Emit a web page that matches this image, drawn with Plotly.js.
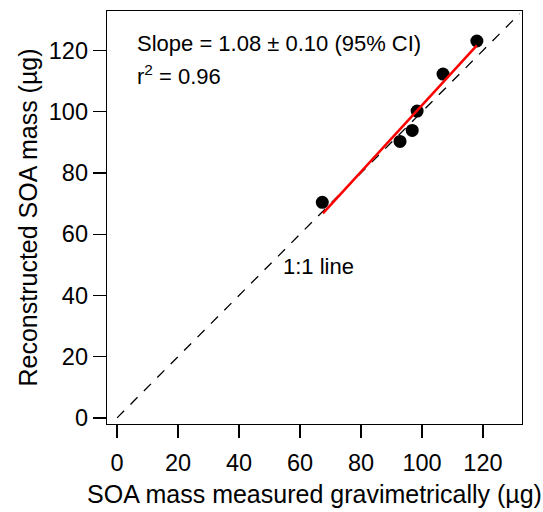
<!DOCTYPE html>
<html><head><meta charset="utf-8">
<script src="https://cdn.plot.ly/plotly-3.0.1.min.js"></script>
<style>body{margin:0;background:#fff}</style>
</head><body>
<div id="chart" style="width:543px;height:512px"></div>
<script>
const measured = [67.3, 92.8, 96.8, 98.4, 106.9, 118.0];
const reconstructed = [70.4, 90.3, 93.9, 100.2, 112.3, 123.1];
const fitX = [67.5, 118.0];
const fitY = [66.8, 121.7];
const oneToOneX = [0, 132];
const oneToOneY = [0, 132];
const tickVals = [0, 20, 40, 60, 80, 100, 120];

const font = {family: 'Liberation Sans, Arial, sans-serif', color: '#000'};
const traces = [
  {x: oneToOneX, y: oneToOneY, mode: 'lines', line: {color: '#000', width: 1.3, dash: '10px,9px'}, hoverinfo: 'skip'},
  {x: measured, y: reconstructed, mode: 'markers', marker: {color: '#000', size: 13}},
  {x: fitX, y: fitY, mode: 'lines', line: {color: '#ff0000', width: 2.5}}
];
const axisCommon = {
  tickvals: tickVals, ticks: 'outside', ticklen: 13, tickwidth: 1.3, tickcolor: '#000',
  showline: true, linecolor: '#000', linewidth: 1.3, mirror: true, showgrid: false, zeroline: false,
  tickfont: {family: font.family, size: 23.5, color: '#000'}
};
const layout = {
  width: 543, height: 512,
  margin: {l: 107, r: 21, t: 11, b: 88},
  showlegend: false,
  plot_bgcolor: '#fff', paper_bgcolor: '#fff',
  xaxis: Object.assign({}, axisCommon, {range: [-3.3, 132.8], ticklabelstandoff: 4,
    title: {text: 'SOA mass measured gravimetrically (µg)', font: {family: font.family, size: 25, color: '#000'}, standoff: 11}}),
  yaxis: Object.assign({}, axisCommon, {range: [-2.0, 132.9],
    title: {text: 'Reconstructed SOA mass (µg)', font: {family: font.family, size: 25, color: '#000'}, standoff: 4}}),
  annotations: [
    {x: 5.8, y: 122.4, xref: 'x', yref: 'y', xanchor: 'left', yanchor: 'middle', showarrow: false,
     text: 'Slope = 1.08 ± 0.10 (95% CI)', font: {family: font.family, size: 22, color: '#000'}},
    {x: 5.8, y: 112, xref: 'x', yref: 'y', xanchor: 'left', yanchor: 'middle', showarrow: false,
     text: 'r<sup>2</sup> = 0.96', font: {family: font.family, size: 22, color: '#000'}},
    {x: 65.9, y: 49.5, xref: 'x', yref: 'y', xanchor: 'center', yanchor: 'middle', showarrow: false,
     text: '1:1 line', font: {family: font.family, size: 22, color: '#000'}}
  ]
};
Plotly.newPlot('chart', traces, layout, {displayModeBar: false, staticPlot: true});
</script>
</body></html>
